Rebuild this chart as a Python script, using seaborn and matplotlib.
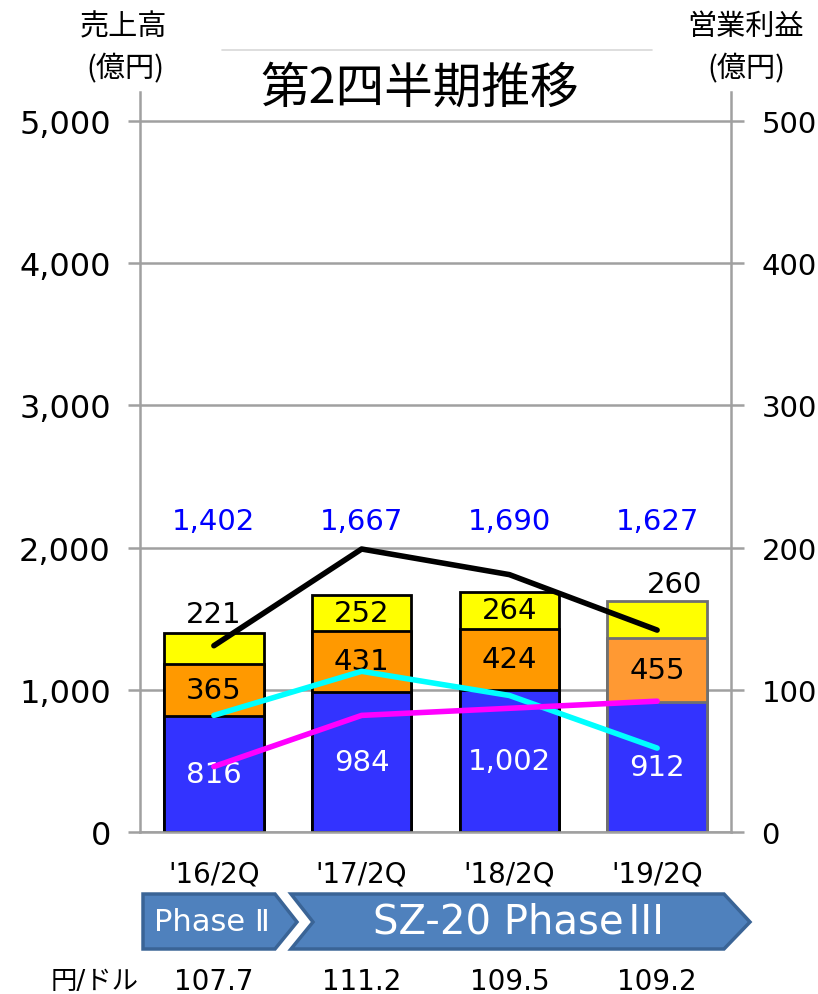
import matplotlib
matplotlib.use("Agg")
import matplotlib.pyplot as plt
import seaborn as sns
import numpy as np
import pandas as pd
from matplotlib.patches import Polygon
from matplotlib.lines import Line2D

# ---------------- data ----------------
categories = ["'16/2Q", "'17/2Q", "'18/2Q", "'19/2Q"]
sales_blue = [816, 984, 1002, 912]
sales_orange = [365, 431, 424, 455]
sales_yellow = [221, 252, 264, 260]
sales_total = [1402, 1667, 1690, 1627]
profit_black = [131, 199, 181, 142]
profit_cyan = [82, 113, 96, 59]
profit_magenta = [46, 82, 87, 92]
fx_rates = ["107.7", "111.2", "109.5", "109.2"]
left_ticks = [0, 1000, 2000, 3000, 4000, 5000]
right_ticks = [0, 100, 200, 300, 400, 500]

sns.set_style("white")
plt.rcParams['font.family'] = ['DejaVu Sans', 'Noto Sans CJK JP']
plt.rcParams['text.color'] = 'black'

W, H = 818, 995
fig = plt.figure(figsize=(W / 100, H / 100), dpi=100)


def fx(x):
    return x / W


def fy(y):
    return 1 - y / H


ax_left, ax_right, ax_bottom, ax_top = 140, 731, 833, 93
ax = fig.add_axes([fx(ax_left), fy(ax_bottom), (ax_right - ax_left) / W, (ax_bottom - ax_top) / H])

df = pd.DataFrame({
    "cat": categories,
    "blue": sales_blue,
    "orange": sales_orange,
    "yellow": sales_yellow,
})
df["c_orange"] = df["blue"] + df["orange"]
df["c_yellow"] = df["c_orange"] + df["yellow"]

bw = 0.675
elw = 2.0
sns.barplot(data=df, x="cat", y="c_yellow", color="#FFFF00", saturation=1, width=bw,
            edgecolor="black", linewidth=elw, ax=ax, zorder=2)
sns.barplot(data=df, x="cat", y="c_orange", color="#FF9900", saturation=1, width=bw,
            edgecolor="black", linewidth=elw, ax=ax, zorder=2)
sns.barplot(data=df, x="cat", y="blue", color="#3333FF", saturation=1, width=bw,
            edgecolor="black", linewidth=elw, ax=ax, zorder=2)

# last bar: gray outline, lighter orange
patches = ax.patches
n = len(categories)
for layer in range(3):
    p = patches[layer * n + n - 1]
    p.set_edgecolor("#707070")
patches[1 * n + n - 1].set_facecolor("#FF9933")

ymax = 5000 * (ax_bottom - ax_top) / (833 - 122)
ax.set_ylim(0, ymax)
ax.set_xlim(-0.5, 3.5)
ax.set_yticks(left_ticks)
ax.set_yticklabels([f"{v:,}" for v in left_ticks], fontsize=23)
ax.yaxis.grid(True, color="#A0A0A0", linewidth=1.8, zorder=0)
ax.set_axisbelow(True)
ax.set_xlabel("")
ax.set_ylabel("")
ax.set_xticks(range(n))
ax.set_xticklabels(categories, fontsize=20)
ax.set_xticks([-0.5, 0.5, 1.5, 2.5, 3.5], minor=True)
ax.tick_params(axis="x", which="major", length=0, pad=20, labelcolor="black")
ax.tick_params(axis="x", which="minor", length=7.5, width=1.8, color="#A0A0A0", direction="out")
ax.tick_params(axis="y", which="major", length=9, width=1.8, color="#A0A0A0", direction="out",
               pad=12, labelcolor="black")
for s in ["left", "right", "bottom"]:
    ax.spines[s].set_color("#A0A0A0")
    ax.spines[s].set_linewidth(1.8)
ax.spines["top"].set_visible(False)

# right axis with operating profit lines
ax2 = ax.twinx()
xs = list(range(n))
lw = 4.0
sns.lineplot(x=xs, y=profit_black, color="black", linewidth=lw, ax=ax2)
sns.lineplot(x=xs, y=profit_cyan, color="#00FFFF", linewidth=lw, ax=ax2)
sns.lineplot(x=xs, y=profit_magenta, color="#FF00FF", linewidth=lw, ax=ax2)
ax2.set_ylim(0, ymax / 10)
ax2.set_yticks(right_ticks)
ax2.set_yticklabels([str(v) for v in right_ticks], fontsize=21)
ax2.tick_params(axis="y", length=9, width=1.8, color="#A0A0A0", direction="out", pad=13,
                labelcolor="black")
for s in ["left", "right", "bottom", "top"]:
    ax2.spines[s].set_visible(False)
ax2.set_ylabel("")
ax2.grid(False)
ax.set_xlim(-0.5, 3.5)

# bar labels
fs_lab = 21
for i in range(n):
    b, o, yv = sales_blue[i], sales_orange[i], sales_yellow[i]
    ax.text(i, b / 2, f"{b:,}", ha="center", va="center", color="white", fontsize=fs_lab, zorder=5)
    ax.text(i, b + o / 2, f"{o:,}", ha="center", va="center", color="black", fontsize=fs_lab, zorder=5)
    ax.text(i, 2190, f"{sales_total[i]:,}", ha="center", va="center", color="#0000FF",
            fontsize=fs_lab, zorder=5)

# yellow segment labels (first and last outside the bar)
ax.text(0, 1535, f"{sales_yellow[0]:,}", ha="center", va="center", fontsize=fs_lab, zorder=5)
ax.text(1, sales_blue[1] + sales_orange[1] + sales_yellow[1] / 2, f"{sales_yellow[1]:,}",
        ha="center", va="center", fontsize=fs_lab, zorder=5)
ax.text(2, sales_blue[2] + sales_orange[2] + sales_yellow[2] / 2, f"{sales_yellow[2]:,}",
        ha="center", va="center", fontsize=fs_lab, zorder=5)
ax.text(3.12, 1745, f"{sales_yellow[3]:,}", ha="center", va="center", fontsize=fs_lab, zorder=5)

# axis titles and chart title
cjk = ["Noto Sans CJK JP"]
fig.text(fx(123), fy(27), "売上高", ha="center", va="center", fontsize=21, family=cjk)
fig.text(fx(125), fy(69), "(億円)", ha="center", va="center", fontsize=21, family=cjk)
fig.text(fx(746), fy(27), "営業利益", ha="center", va="center", fontsize=21, family=cjk)
fig.text(fx(746), fy(69), "(億円)", ha="center", va="center", fontsize=21, family=cjk)
fig.text(fx(420), fy(89), "第2四半期推移", ha="center", va="center", fontsize=35, family=cjk)
fig.add_artist(Line2D([fx(222), fx(652)], [fy(51), fy(51)], color="#D8D8D8", linewidth=1.2))

# phase arrows
blue_fill = "#4F81BD"
blue_edge = "#3A6496"
p1 = [(143, 895), (275, 895), (297, 923), (275, 950), (143, 950)]
p2 = [(291, 895), (724, 895), (750, 923), (724, 950), (291, 950), (313, 923)]
for pts in (p1, p2):
    fig.add_artist(Polygon([(fx(x), fy(y)) for x, y in pts], closed=True,
                           facecolor=blue_fill, edgecolor=blue_edge, linewidth=2.5,
                           transform=fig.transFigure))
fig.text(fx(212), fy(923), "Phase Ⅱ", ha="center", va="center", color="white", fontsize=22,
         family=["DejaVu Sans", "Noto Sans CJK JP"])
fig.text(fx(373), fy(923), "SZ-20 Phase", ha="left", va="center", color="white", fontsize=29)
fig.text(fx(646), fy(923), "Ⅲ", ha="center", va="center", color="white", fontsize=29,
         family=cjk)

# exchange rates
fig.text(fx(95), fy(982), "円/ドル", ha="center", va="center", fontsize=19)
for i in range(n):
    xd = ax.transData.transform((i, 0))[0]
    fig.text(xd / W, fy(982), fx_rates[i], ha="center", va="center", fontsize=20)

fig.savefig("out.png", dpi=100)
